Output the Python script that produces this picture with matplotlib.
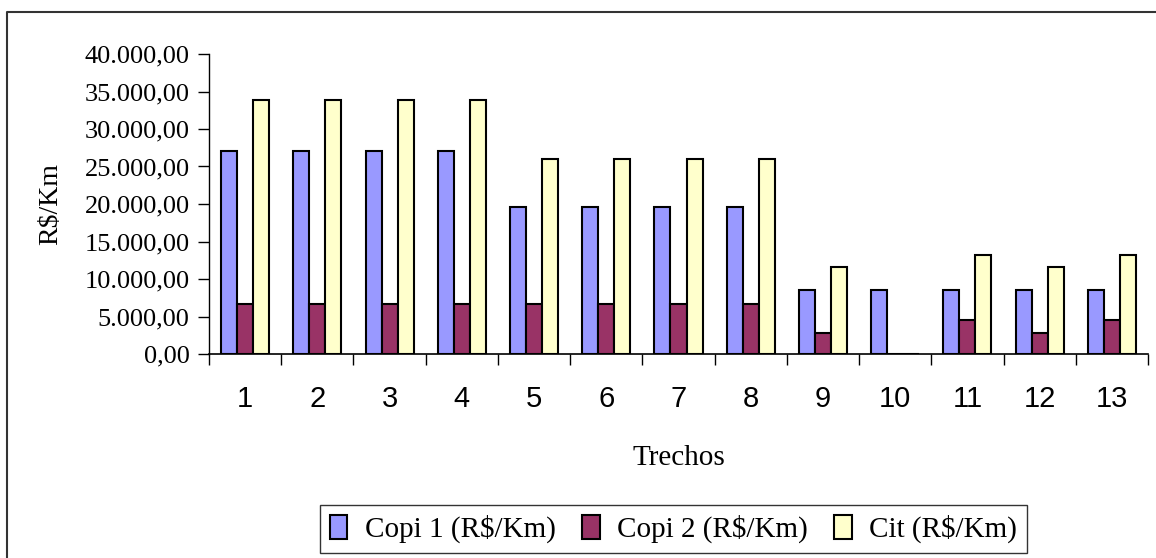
import matplotlib
matplotlib.use('Agg')
import matplotlib.pyplot as plt
from matplotlib.lines import Line2D
from matplotlib.ticker import FuncFormatter
import numpy as np

# Trechos 1..13 and the three cost series (R$/Km)
trechos = ['1', '2', '3', '4', '5', '6', '7', '8', '9', '10', '11', '12', '13']
copi1 = [27000, 27000, 27000, 27000, 19600, 19600, 19600, 19600, 8500, 8500, 8500, 8500, 8500]
copi2 = [6700, 6700, 6700, 6700, 6700, 6700, 6700, 6700, 2800, 0, 4600, 2800, 4600]
cit = [33800, 33800, 33800, 33800, 26000, 26000, 26000, 26000, 11600, 0, 13200, 11600, 13200]
series_names = ['Copi 1 (R$/Km)', 'Copi 2 (R$/Km)', 'Cit (R$/Km)']
y_ticks = [0, 5000, 10000, 15000, 20000, 25000, 30000, 35000, 40000]

COLORS = ['#9999FF', '#993366', '#FFFFCC']
SERIF = 'Liberation Serif'
SANS = 'Liberation Sans'


def br_format(v, pos=None):
    # 40000 -> 40.000,00
    s = f'{v:,.2f}'
    return s.replace(',', 'X').replace('.', ',').replace('X', '.')


fig = plt.figure(figsize=(11.56, 5.58), dpi=100)
ax = fig.add_axes([209 / 1156, 1 - 354 / 558, (1148 - 209) / 1156, (354 - 54) / 558])

x = np.arange(1, len(trechos) + 1)
w = 0.222
handles = []
for i, vals in enumerate([copi1, copi2, cit]):
    b = ax.bar(x + (i - 1) * w, vals, width=w, color=COLORS[i], edgecolor='black',
               linewidth=1.5, label=series_names[i], zorder=3)
    handles.append(b)

ax.set_xlim(0.5, len(trechos) + 0.5)
ax.set_ylim(0, 40000)
ax.set_yticks(y_ticks)
ax.yaxis.set_major_formatter(FuncFormatter(br_format))

ax.set_xticks(x)
ax.set_xticklabels(trechos, fontfamily=SANS, fontsize=21)
ax.set_xticks(np.arange(0.5, len(trechos) + 1, 1.0), minor=True)
ax.tick_params(axis='x', which='major', length=0, pad=22)
ax.tick_params(axis='x', which='minor', length=8, width=1, direction='out')
ax.tick_params(axis='y', length=8, width=1, direction='out', pad=6)
for lab in ax.get_yticklabels():
    lab.set_fontfamily(SERIF)
    lab.set_fontsize(19)

for s in ['top', 'right']:
    ax.spines[s].set_visible(False)
ax.spines['left'].set_linewidth(1)
ax.spines['bottom'].set_linewidth(1.2)

ax.set_xlabel('Trechos', fontfamily=SERIF, fontsize=21, labelpad=23.5)
ax.set_ylabel('R$/Km', fontfamily=SERIF, fontsize=20)
ax.yaxis.set_label_coords(-0.155, 0.5)

leg = fig.legend(handles=handles, labels=series_names, loc='center',
                 bbox_to_anchor=(673.5 / 1156, 1 - 529 / 558), ncol=3,
                 prop={'family': SERIF, 'size': 21}, frameon=True, fancybox=False,
                 edgecolor='black', handlelength=0.6, handleheight=0.9,
                 handletextpad=0.6, columnspacing=0.9, borderpad=0.35)
leg.get_frame().set_linewidth(1)

# outer chart border (top and left visible)
fig.add_artist(Line2D([7 / 1156, 7 / 1156, 1.0], [0.0, 1 - 12 / 558, 1 - 12 / 558],
                      transform=fig.transFigure, color='#333333', linewidth=1.5))

fig.savefig('out.png', dpi=100)
